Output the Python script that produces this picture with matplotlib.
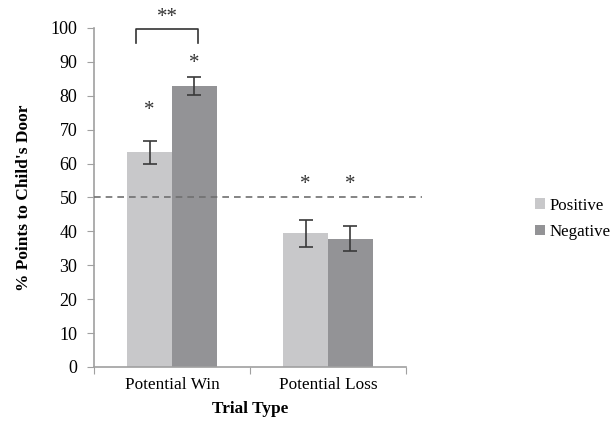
import matplotlib.pyplot as plt
import numpy as np

plt.rcParams['font.family'] = ['Liberation Serif', 'DejaVu Serif']

# Data
categories = ['Potential Win', 'Potential Loss']
positive = [63.3, 39.5]
negative = [82.8, 37.9]
positive_err = [3.5, 4.0]
negative_err = [2.7, 3.8]

fig = plt.figure(figsize=(6.16, 4.21), dpi=100)
ax = fig.add_axes([0.1526, 0.1283, 0.5065, 0.8052])

x = np.arange(len(categories))
w = 0.286
pos_color = '#c8c8ca'
neg_color = '#939396'
err_kw = dict(ecolor='#3a3a3a', capsize=5, elinewidth=1.2, capthick=1.2)

ax.bar(x - w / 2, positive, w, color=pos_color, label='Positive',
       yerr=positive_err, error_kw=err_kw)
ax.bar(x + w / 2, negative, w, color=neg_color, label='Negative',
       yerr=negative_err, error_kw=err_kw)

# chance line at 50%
ax.plot([-0.5, 1.603], [50, 50], linestyle=(0, (4, 3)), color='#707070',
        linewidth=1.2, clip_on=False, zorder=3)

ax.set_xlim(-0.5, 1.5)
ax.set_ylim(0, 100)
ax.set_yticks(np.arange(0, 101, 10))
ax.set_xticks([-0.5, 0.5, 1.5], minor=False)
ax.set_xticklabels([])
ax.set_xticks(x, minor=True)
ax.set_xticklabels(categories, minor=True, fontsize=12.4)
ax.tick_params(axis='x', which='minor', length=0, pad=7)
ax.tick_params(axis='x', which='major', length=5, color='#a0a0a0', direction='out')
ax.tick_params(axis='y', length=5, color='#a0a0a0', labelsize=13, pad=7)

for s in ['top', 'right']:
    ax.spines[s].set_visible(False)
for s in ['left', 'bottom']:
    ax.spines[s].set_color('#a0a0a0')
    ax.spines[s].set_linewidth(1.2)

ax.set_ylabel("% Points to Child's Door", fontsize=12.5, fontweight='bold', labelpad=13)
ax.set_xlabel('Trial Type', fontsize=12.4, fontweight='bold', labelpad=6)

# significance markers
star_kw = dict(ha='center', va='center', fontsize=15, color='#333333', clip_on=False)
ax.text(x[0] - w / 2, 75.8, '*', **star_kw)
ax.text(x[0] + w / 2, 89.6, '*', **star_kw)
ax.text(x[1] - w / 2, 53.8, '*', **star_kw)
ax.text(x[1] + w / 2, 53.8, '*', **star_kw)
ax.plot([x[0] - 0.23, x[0] - 0.23, x[0] + 0.165, x[0] + 0.165],
        [95.5, 99.8, 99.8, 95.5], color='#333333', linewidth=1.2, clip_on=False)
ax.text(x[0] - 0.03, 103.0, '**', **star_kw)

fig.legend(loc='center left', bbox_to_anchor=(0.868, 0.48), frameon=False,
           fontsize=12.2, handlelength=0.6, handleheight=0.6, handletextpad=0.3,
           labelspacing=0.6, borderpad=0, borderaxespad=0)

fig.savefig('out.png', dpi=100)
